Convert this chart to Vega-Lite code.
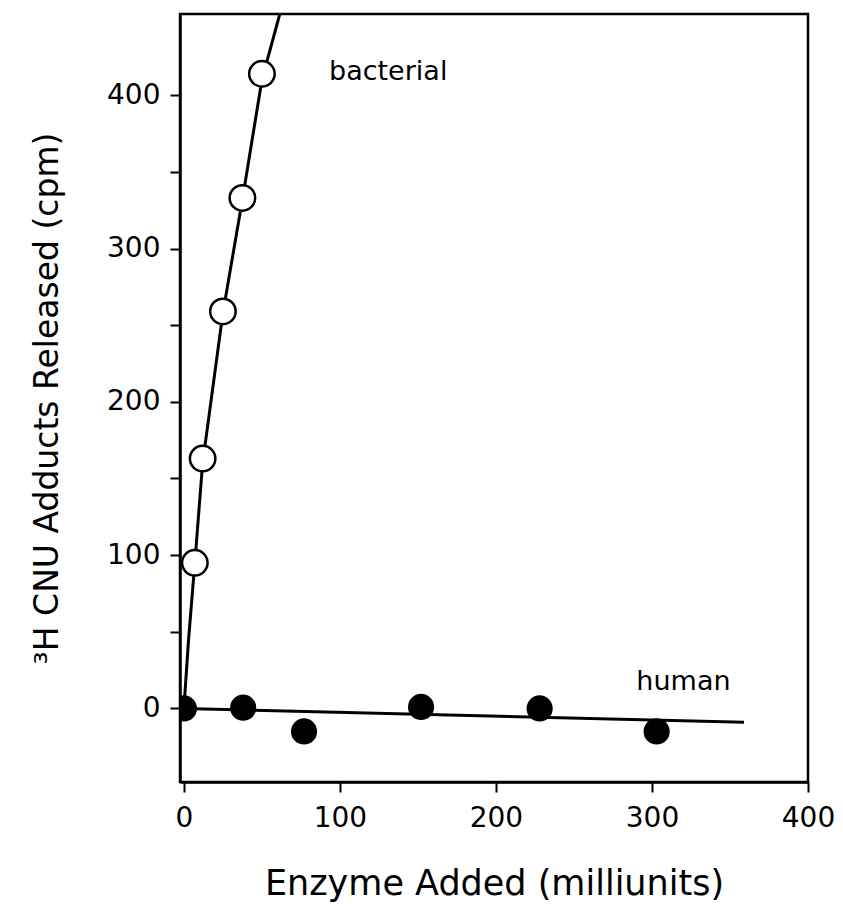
{
  "$schema": "https://vega.github.io/schema/vega-lite/v6.json",
  "width": 628,
  "height": 768,
  "autosize": {"type": "none"},
  "padding": {"left": 180, "top": 14, "right": 35, "bottom": 137},
  "background": "white",
  "config": {
    "view": {"stroke": "black", "strokeWidth": 2.5},
    "font": "DejaVu Sans",
    "axis": {
      "grid": false,
      "domainColor": "black",
      "domainWidth": 2.5,
      "tickColor": "black",
      "tickWidth": 2,
      "tickSize": 10,
      "labelColor": "black",
      "titleColor": "black",
      "labelFont": "DejaVu Sans",
      "titleFont": "DejaVu Sans",
      "labelFontWeight": "normal",
      "titleFontWeight": "normal"
    }
  },
  "datasets": {
    "points": [
      {"series": "bacterial", "enzyme": 7, "cpm": 95},
      {"series": "bacterial", "enzyme": 12, "cpm": 163},
      {"series": "bacterial", "enzyme": 25, "cpm": 259},
      {"series": "bacterial", "enzyme": 37.5, "cpm": 333},
      {"series": "bacterial", "enzyme": 50, "cpm": 414},
      {"series": "human", "enzyme": 0, "cpm": 0},
      {"series": "human", "enzyme": 38, "cpm": 0.5},
      {"series": "human", "enzyme": 77, "cpm": -15},
      {"series": "human", "enzyme": 152, "cpm": 1},
      {"series": "human", "enzyme": 228, "cpm": 0},
      {"series": "human", "enzyme": 303, "cpm": -15}
    ],
    "fits": [
      {"series": "bacterial", "enzyme": 0, "cpm": 0},
      {"series": "bacterial", "enzyme": 3, "cpm": 45},
      {"series": "bacterial", "enzyme": 7, "cpm": 95},
      {"series": "bacterial", "enzyme": 12, "cpm": 160},
      {"series": "bacterial", "enzyme": 25, "cpm": 258},
      {"series": "bacterial", "enzyme": 37.5, "cpm": 332},
      {"series": "bacterial", "enzyme": 50, "cpm": 410},
      {"series": "bacterial", "enzyme": 62, "cpm": 455},
      {"series": "human", "enzyme": 0, "cpm": 0},
      {"series": "human", "enzyme": 359, "cpm": -9}
    ],
    "labels": [
      {"text": "bacterial", "enzyme": 93, "cpm": 415},
      {"text": "human", "enzyme": 290, "cpm": 17}
    ]
  },
  "encoding": {
    "x": {
      "field": "enzyme",
      "type": "quantitative",
      "scale": {"domain": [-2.5, 400], "nice": false, "zero": false},
      "axis": {
        "values": [0, 100, 200, 300, 400],
        "title": "Enzyme Added (milliunits)",
        "labelFontSize": 28,
        "labelPadding": 12,
        "titleFontSize": 35,
        "titlePadding": 34,
        "labelFlush": false
      }
    },
    "y": {
      "field": "cpm",
      "type": "quantitative",
      "scale": {"domain": [-48, 453], "nice": false, "zero": false},
      "axis": {
        "values": [0, 50, 100, 150, 200, 250, 300, 350, 400],
        "labelExpr": "datum.value % 100 == 0 ? datum.label : ''",
        "title": "³H CNU Adducts Released (cpm)",
        "labelFontSize": 28,
        "labelPadding": 10,
        "titleFontSize": 33,
        "titlePadding": 42
      }
    }
  },
  "layer": [
    {
      "data": {"name": "fits"},
      "mark": {"type": "line", "color": "black", "strokeWidth": 3, "clip": true},
      "encoding": {"detail": {"field": "series"}}
    },
    {
      "data": {"name": "points"},
      "mark": {"type": "point", "shape": "circle", "filled": true, "stroke": "black", "strokeWidth": 2.5, "clip": true},
      "encoding": {
        "fill": {
          "field": "series",
          "type": "nominal",
          "scale": {"domain": ["bacterial", "human"], "range": ["white", "black"]},
          "legend": null
        },
        "size": {
          "field": "series",
          "type": "nominal",
          "scale": {"domain": ["bacterial", "human"], "range": [650, 560]},
          "legend": null
        },
        "opacity": {"value": 1}
      }
    },
    {
      "data": {"name": "labels"},
      "mark": {"type": "text", "align": "left", "baseline": "middle", "fontSize": 27, "color": "black", "font": "DejaVu Sans"},
      "encoding": {"text": {"field": "text"}}
    }
  ]
}
